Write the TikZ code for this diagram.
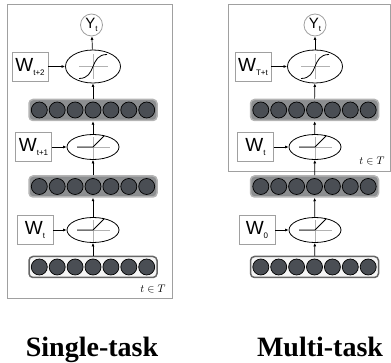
\documentclass[tikz,border=0pt]{standalone}
\usepackage{fontspec}
\setmainfont{Liberation Serif}
\newfontfamily\sfw{Liberation Sans}
\usetikzlibrary{shapes.geometric,arrows.meta}
\definecolor{barfill}{HTML}{8C8E90}
\definecolor{barline}{HTML}{B4B4B4}
\definecolor{unitfill}{HTML}{4A4E54}
\definecolor{panelline}{HTML}{A0A0A0}
\tikzset{
 panel/.style={draw=panelline, line width=0.8pt},
 wbox/.style={draw=panelline, line width=0.8pt, minimum width=36pt, minimum height=29pt, inner sep=0pt, font=\sfw\fontsize{19}{19}\selectfont},
 sigm/.style={ellipse, draw, line width=0.8pt, minimum width=55pt, minimum height=33pt, inner sep=0pt},
 relu/.style={ellipse, draw, line width=0.8pt, minimum width=52pt, minimum height=25pt, inner sep=0pt},
 ynode/.style={circle, draw=panelline, line width=0.8pt, minimum size=22pt, inner sep=0pt, font=\sfw\fontsize{15}{15}\selectfont},
 layer/.style={draw=barline, line width=1.5pt, rounded corners=4pt, fill=barfill, minimum width=128pt, minimum height=21pt, inner sep=0pt},
 inlayer/.style={draw=gray!80!black, line width=1.5pt, rounded corners=4pt, fill=gray!8, minimum width=128pt, minimum height=21pt, inner sep=0pt},
 unit/.style={circle, draw=black, line width=0.7pt, fill=unitfill, minimum size=16pt, inner sep=0pt},
 conn/.style={-{Latex[length=3.5pt,width=3pt]}, line width=0.7pt},
 axis/.style={draw=gray!60, line width=0.8pt},
 curve/.style={draw=black, line width=0.8pt},
 title/.style={font=\bfseries\fontsize{28}{28}\selectfont, anchor=base},
 tlab/.style={font=\fontsize{11}{12}\selectfont}
}
\newcommand\sigmark[1]{\begin{scope}[shift={(#1.center)}]
 \draw[axis] (-14,0) -- (15,0) (0,-12) -- (0,13);
 \draw[curve] (-14,12) .. controls (4,12) and (-4,-12) .. (14,-12);
\end{scope}}
\newcommand\relumark[1]{\begin{scope}[shift={(#1.center)}]
 \draw[axis] (-16,0) -- (17,0) (0,-10) -- (0,12);
 \draw[curve] (-16,0) -- (0,0) -- (11,-11);
\end{scope}}
\newcommand\units[1]{\foreach \i in {-3,...,3}{\node[unit] (#1u\i) at ([xshift=\i*17.9pt]#1.center) {};}}
\newcommand\wlab[2]{W\raisebox{-4pt}{\fontsize{8}{8}\selectfont #2}}
\begin{document}
\begin{tikzpicture}[x=1pt,y=-1pt]
\useasboundingbox (0,0) rectangle (391,363);
% panels
\draw[panel] (7,4) rectangle (172,298);
\draw[panel] (228,4) rectangle (390.5,171);
% ---------- left: single-task ----------
\node[ynode] (LY) at (91.5,25) {Y\raisebox{-3pt}{\fontsize{8}{8}\selectfont t}};
\node[sigm] (LS1) at (93,66.5) {};
\node[layer] (LB1) at (93,110) {};
\node[relu] (LR2) at (93,147) {};
\node[layer] (LB2) at (93,186.5) {};
\node[relu] (LR3) at (93,230) {};
\node[inlayer] (LB3) at (93,267) {};
\units{LB1}\units{LB2}\units{LB3}
\sigmark{LS1}\relumark{LR2}\relumark{LR3}
\node[wbox] (LW1) at (30,66.5) {\wlab{}{t+2}};
\node[wbox] (LW2) at (33.5,147) {\wlab{}{t+1}};
\node[wbox] (LW3) at (35,230) {\wlab{}{t}};
\draw[conn] (LW1) -- (LS1);
\draw[conn] (LW2) -- (LR2);
\draw[conn] (LW3) -- (LR3);
\draw[conn] (LB3) -- (LR3);
\draw[conn] (LR3) -- (LB2);
\draw[conn] (LB2) -- (LR2);
\draw[conn] (LR2) -- (LB1);
\draw[conn] (LB1) -- (LS1);
\draw[conn] (LS1) -- (LY);
\node[tlab] (LT) at (153,289) {$t\in T$};
% ---------- right: multi-task ----------
\node[ynode] (RY) at (315,25) {Y\raisebox{-3pt}{\fontsize{8}{8}\selectfont t}};
\node[sigm] (RS1) at (315,66.5) {};
\node[layer] (RB1) at (314.5,110) {};
\node[relu] (RR2) at (315,147) {};
\node[layer] (RB2) at (314.5,186.5) {};
\node[relu] (RR3) at (315,230) {};
\node[inlayer] (RB3) at (314.5,267) {};
\units{RB1}\units{RB2}\units{RB3}
\sigmark{RS1}\relumark{RR2}\relumark{RR3}
\node[wbox] (RW1) at (253,66.5) {\wlab{}{T+t}};
\node[wbox] (RW2) at (255.5,147) {\wlab{}{t}};
\node[wbox] (RW3) at (257,230) {\wlab{}{0}};
\draw[conn] (RW1) -- (RS1);
\draw[conn] (RW2) -- (RR2);
\draw[conn] (RW3) -- (RR3);
\draw[conn] (RB3) -- (RR3);
\draw[conn] (RR3) -- (RB2);
\draw[conn] (RB2) -- (RR2);
\draw[conn] (RR2) -- (RB1);
\draw[conn] (RB1) -- (RS1);
\draw[conn] (RS1) -- (RY);
\node[tlab] (RT) at (372,160.5) {$t\in T$};
% titles
\node[title] (T1) at (92,356) {Single-task};
\node[title] (T2) at (320,356) {Multi-task};
\end{tikzpicture}
\end{document}
